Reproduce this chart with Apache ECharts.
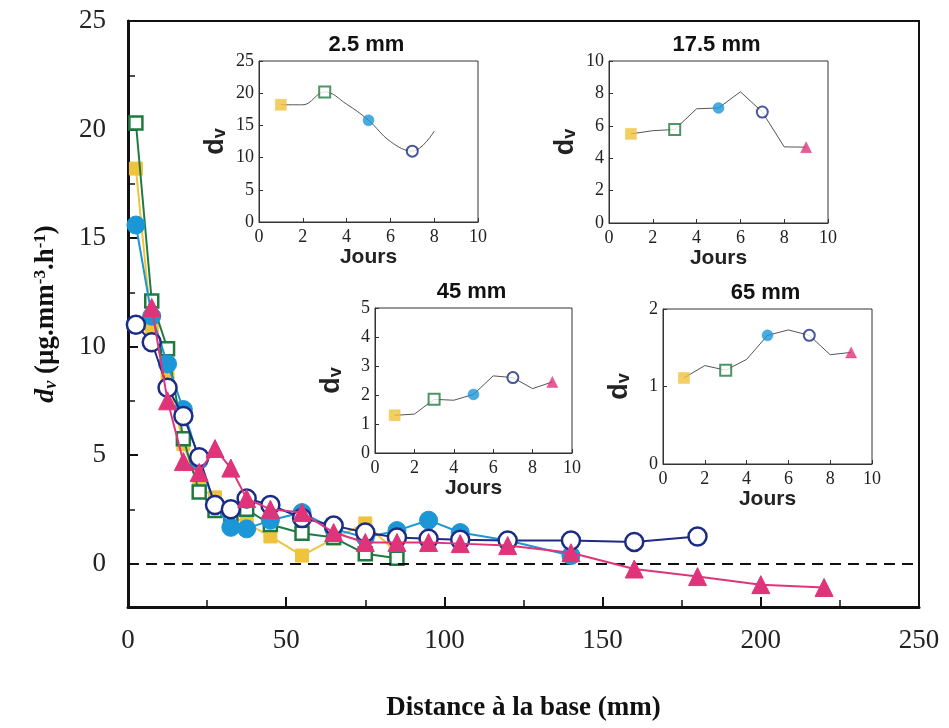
<!DOCTYPE html>
<html>
<head>
<meta charset="utf-8">
<script src="https://cdn.jsdelivr.net/npm/echarts@6/dist/echarts.min.js"></script>
<style>
html, body { margin: 0; padding: 0; background: #fff; }
#chart { width: 949px; height: 728px; }
</style>
</head>
<body>
<div id="chart"></div>
<script>
// distances à la base (mm)
var distances = [2.5, 7.5, 12.5, 17.5, 22.5, 27.5, 32.5, 37.5, 45, 55, 65, 75, 85, 95, 105, 120, 140, 160, 180, 200, 220];
// valeurs de d_v par série (jour 1, 3, 5, 7, 9)
var jour1 = [18.2, 10.8, 8.6, 5.5, 3.5, 3.05, 2.2, 1.85, 1.25, 0.37, 1.15, 1.85, 0.5];
var jour3 = [20.3, 12.1, 9.9, 5.75, 3.3, 2.45, 2.1, 2.5, 1.8, 1.4, 1.2, 0.45, 0.25];
var jour5 = [15.6, 11.4, 9.2, 7.1, 4.75, 2.7, 1.67, 1.6, 2.0, 2.35, 1.6, 1.2, 1.52, 2.0, 1.43, 1.06, 0.37];
var jour7 = [11.0, 10.2, 8.1, 6.8, 4.9, 2.7, 2.5, 3.0, 2.7, 2.1, 1.75, 1.43, 1.2, 1.15, 1.1, 1.06, 1.06, 1.0, 1.25];
var jour9 = [null, 11.8, 7.5, 4.7, 4.2, 5.3, 4.4, 3.0, 2.5, 2.35, 1.43, 0.97, 0.97, 0.97, 0.92, 0.83, 0.5, -0.25, -0.6, -0.97, -1.1];

// encarts : évolution dans le temps
var jours = [1, 2, 3, 4, 5, 6, 7, 8, 9];
var joursMarques = [1, 3, 5, 7, 9];
var courbe25 = [18.2, 18.2, 20.2, 18.3, 15.8, 12.5, 11.0, 14.1];
var marques25 = [18.2, 20.2, 15.8, 11.0];
var courbe175 = [5.5, 5.7, 5.77, 7.05, 7.1, 8.1, 6.85, 4.7, 4.68];
var marques175 = [5.5, 5.77, 7.1, 6.85, 4.68];
var courbe45 = [1.3, 1.34, 1.85, 1.82, 2.02, 2.66, 2.6, 2.22, 2.45];
var marques45 = [1.3, 1.85, 2.02, 2.6, 2.45];
var courbe65 = [1.11, 1.27, 1.21, 1.35, 1.66, 1.73, 1.66, 1.41, 1.44];
var marques65 = [1.11, 1.21, 1.66, 1.66, 1.44];

var couleurs = ['#F0C33C', '#1F7A40', '#1B96D6', '#1C2C84', '#E0347A'];
var symboles = ['rect', 'rect', 'circle', 'circle', 'triangle'];
var ouverts = [false, true, false, true, false];

var serif = 'Liberation Serif';
var sans = 'Liberation Sans';

function paires(xs, ys) {
	var out = [];
	for (var i = 0; i < ys.length; i++) {
		if (ys[i] !== null) out.push([xs[i], ys[i]]);
	}
	return out;
}

var grids = [{left: 128, top: 21, width: 791, height: 586, show: true, borderColor: '#111', borderWidth: 2}];
var xAxes = [{
	gridIndex: 0, type: 'value', min: 0, max: 250, interval: 50,
	axisLine: {onZero: false, lineStyle: {color: '#111', width: 3}},
	axisTick: {inside: true, length: 10, lineStyle: {color: '#111', width: 2}},
	minorTick: {show: true, splitNumber: 2, length: 7, lineStyle: {color: '#111', width: 1.5}},
	splitLine: {show: false},
	axisLabel: {margin: 20, fontFamily: serif, fontSize: 27, color: '#222'},
	name: 'Distance à la base (mm)', nameLocation: 'middle', nameGap: 88,
	nameTextStyle: {fontFamily: serif, fontWeight: 'bold', fontSize: 27, color: '#111'}
}];
var yAxes = [{
	gridIndex: 0, type: 'value', min: -2, max: 25, splitNumber: 5,
	axisLine: {onZero: false, lineStyle: {color: '#111', width: 3}},
	axisTick: {inside: true, length: 10, lineStyle: {color: '#111', width: 2}},
	minorTick: {show: true, splitNumber: 2, length: 7, lineStyle: {color: '#111', width: 1.5}},
	splitLine: {show: false},
	axisLabel: {showMinLabel: false, margin: 22, fontFamily: serif, fontSize: 27, color: '#222'},
	name: '{i|d}{is|v}{n| (µg.mm}{sup|-3}{n|.h}{sup|-1}{n|)}',
	nameLocation: 'middle', nameGap: 68, nameRotate: 90,
	nameTextStyle: {
		rich: {
			i: {fontFamily: serif, fontStyle: 'italic', fontWeight: 'bold', fontSize: 28, color: '#111'},
			is: {fontFamily: serif, fontStyle: 'italic', fontWeight: 'bold', fontSize: 18, color: '#111', verticalAlign: 'bottom'},
			n: {fontFamily: serif, fontWeight: 'bold', fontSize: 27, color: '#111'},
			sup: {fontFamily: serif, fontWeight: 'bold', fontSize: 17, color: '#111', verticalAlign: 'top'}
		}
	}
}];

var series = [];
var valeurs = [jour1, jour3, jour5, jour7, jour9];
var tailles = [13, 13, 18, 18, 18];
var ordre = [0, 1, 3, 2, 4];
ordre.forEach(function (k) {
	series.push({
		type: 'line', xAxisIndex: 0, yAxisIndex: 0,
		data: paires(distances, valeurs[k]),
		symbol: symboles[k], symbolSize: tailles[k],
		itemStyle: {
			color: ouverts[k] ? '#fff' : couleurs[k],
			borderColor: couleurs[k], borderWidth: ouverts[k] ? 2.5 : 1
		},
		lineStyle: {color: couleurs[k], width: 2},
		z: 3 + k
	});
});
// ligne zéro en tirets
series[series.length - 1].markLine = {
	silent: true, symbol: 'none', label: {show: false},
	lineStyle: {type: [11, 7], color: '#111', width: 2},
	data: [{yAxis: 0}]
};

// encarts
var encarts = [
	{titre: '2.5 mm', left: 259, top: 61, width: 219, height: 161, max: 25, interval: 5, courbe: courbe25, marques: marques25, lisse: true},
	{titre: '17.5 mm', left: 609, top: 61, width: 219, height: 162, max: 10, interval: 2, courbe: courbe175, marques: marques175, lisse: false},
	{titre: '45 mm', left: 375, top: 308, width: 197, height: 145, max: 5, interval: 1, courbe: courbe45, marques: marques45, lisse: false},
	{titre: '65 mm', left: 663, top: 309, width: 209, height: 155, max: 2, interval: 1, courbe: courbe65, marques: marques65, lisse: false}
];
var graphics = [];

encarts.forEach(function (e, n) {
	var g = n + 1;
	grids.push({left: e.left, top: e.top, width: e.width, height: e.height, show: true, borderColor: '#333', borderWidth: 1, backgroundColor: '#fff'});
	xAxes.push({
		gridIndex: g, type: 'value', min: 0, max: 10, interval: 2,
		axisLine: {lineStyle: {color: '#333', width: 1}},
		axisTick: {inside: true, length: 4, lineStyle: {color: '#333'}},
		splitLine: {show: false},
		axisLabel: {margin: 6, fontFamily: serif, fontSize: 18, color: '#222'},
		name: 'Jours', nameLocation: 'middle', nameGap: 24,
		nameTextStyle: {fontFamily: sans, fontWeight: 'bold', fontSize: 21, color: '#222'}
	});
	yAxes.push({
		gridIndex: g, type: 'value', min: 0, max: e.max, interval: e.interval,
		axisLine: {lineStyle: {color: '#333', width: 1}},
		axisTick: {inside: true, length: 4, lineStyle: {color: '#333'}},
		splitLine: {show: false},
		axisLabel: {margin: 5, fontFamily: serif, fontSize: 18, color: '#222'},
		name: '{d|d}{v|v}', nameLocation: 'middle', nameGap: 30, nameRotate: 90,
		nameTextStyle: {
			rich: {
				d: {fontFamily: sans, fontWeight: 'bold', fontSize: 27, color: '#222'},
				v: {fontFamily: sans, fontWeight: 'bold', fontSize: 18, color: '#222', verticalAlign: 'bottom'}
			}
		}
	});
	series.push({
		type: 'line', xAxisIndex: g, yAxisIndex: g,
		data: paires(jours, e.courbe),
		showSymbol: false, smooth: e.lisse ? 0.4 : false,
		lineStyle: {color: '#555', width: 1},
		z: 10
	});
	series.push({
		type: 'scatter', xAxisIndex: g, yAxisIndex: g,
		data: e.marques.map(function (v, i) {
			return {
				value: [joursMarques[i], v],
				symbol: symboles[i],
				itemStyle: {color: ouverts[i] ? '#fff' : couleurs[i], borderColor: couleurs[i], borderWidth: ouverts[i] ? 2 : 0.5}
			};
		}),
		symbolSize: 11,
		z: 11
	});
	graphics.push({
		type: 'text', x: e.left + e.width / 2 - 2, y: e.top - 16,
		style: {text: e.titre, font: 'bold 22px "Liberation Sans"', fill: '#111', textAlign: 'center', verticalAlign: 'middle'},
		z: 20
	});
});

var chart = echarts.init(document.getElementById('chart'));
chart.setOption({
	animation: false,
	backgroundColor: '#fff',
	grid: grids,
	xAxis: xAxes,
	yAxis: yAxes,
	series: series,
	graphic: graphics
});
</script>
</body>
</html>
